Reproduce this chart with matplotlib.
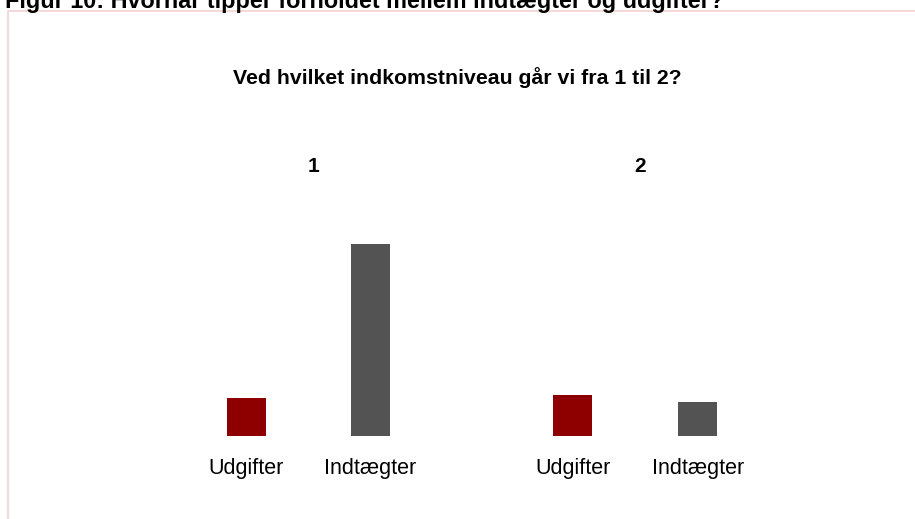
import matplotlib.pyplot as plt
from matplotlib.patches import Rectangle
from matplotlib.transforms import blended_transform_factory

plt.rcParams['font.family'] = ['Liberation Sans', 'DejaVu Sans']

groups = ['1', '2']
categories = ['Udgifter', 'Indtægter', 'Udgifter', 'Indtægter']
values = [38, 192, 41, 34]
positions = [0, 1, 2.63, 3.64]
colors = ['#8e0000', '#535353', '#8e0000', '#535353']

fig = plt.figure(figsize=(9.15, 5.19), dpi=100)

# pink frame around the chart area (top and right edges run off the image)
fig.patches.append(Rectangle((7.5 / 915, -0.1), 1.2, 0.1 + 1 - 10.5 / 519,
                             transform=fig.transFigure, fill=False,
                             edgecolor='#f3d2d2', linewidth=1.2))

# caption, cut off by the top of the image as in the source
fig.text(5 / 915, 1 - 8 / 519, 'Figur 10: Hvornår tipper forholdet mellem indtægter og udgifter?',
         fontsize=16.8, fontweight='bold', ha='left', va='baseline')

ax = fig.add_axes([184.5 / 915, 83 / 519, 620 / 915, 200 / 519])
ax.bar(positions, values, width=0.315, color=colors)
ax.set_xlim(-0.5, 4.5)
ax.set_ylim(0, 200)
ax.set_xticks(positions)
ax.set_xticklabels(categories, fontsize=15.5)
ax.tick_params(axis='x', length=0, pad=16)
ax.set_yticks([])
for s in ax.spines.values():
    s.set_visible(False)

tr = blended_transform_factory(ax.transData, fig.transFigure)
for i, g in enumerate(groups):
    cx = (positions[2 * i] + positions[2 * i + 1]) / 2 + 0.04
    ax.text(cx, 1 - 167 / 519, g, transform=tr, ha='center', va='center',
            fontsize=15, fontweight='bold')

fig.text(0.5, 1 - 78 / 519, 'Ved hvilket indkomstniveau går vi fra 1 til 2?',
         ha='center', va='center', fontsize=15.3, fontweight='bold')

fig.savefig('out.png', dpi=100)
